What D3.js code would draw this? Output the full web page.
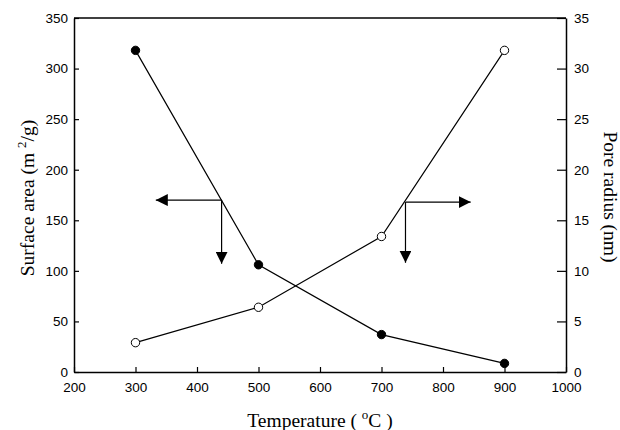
<!DOCTYPE html>
<html>
<head>
<meta charset="utf-8">
<script src="https://d3js.org/d3.v7.min.js"></script>
<title>Surface area and pore radius</title>
<style>
body { margin: 0; background: #fff; }
.tick text { font-family: "Liberation Sans", Arial, sans-serif; font-size: 13.5px; fill: #000; }
.title { font-family: "Liberation Serif", "Times New Roman", serif; font-size: 19.5px; fill: #000; }
</style>
</head>
<body>
<svg id="canvas" width="620" height="430"></svg>
<script>
// data
var temps = [300, 500, 700, 900];
var surfaceArea = [318, 106, 37, 8.5];     // m2/g, left axis, filled dots
var poreRadius = [2.9, 6.4, 13.4, 31.8];   // nm, right axis, open dots
var xTicks = [200, 300, 400, 500, 600, 700, 800, 900, 1000];
var leftTicks = [0, 50, 100, 150, 200, 250, 300, 350];
var rightTicks = [0, 5, 10, 15, 20, 25, 30, 35];
// arrow annotations, in x units and left-axis units
var leftArrow = { cx: 440, cy: 170, hx: 333, vy: 107 };
var rightArrow = { cx: 739, cy: 168, hx: 845, vy: 108 };

var svg = d3.select("#canvas");
var margin = { left: 74, right: 54, top: 18, bottom: 58 };
var w = 620 - margin.left - margin.right;
var h = 430 - margin.top - margin.bottom;

var g = svg.append("g").attr("transform", "translate(" + margin.left + "," + margin.top + ")");

var x = d3.scaleLinear().domain([200, 1000]).range([0, w]);
var yL = d3.scaleLinear().domain([0, 350]).range([h, 0]);
var yR = d3.scaleLinear().domain([0, 35]).range([h, 0]);

// frame top line
g.append("line").attr("x1", 0).attr("x2", w).attr("y1", 0).attr("y2", 0)
  .attr("stroke", "#000").attr("stroke-width", 1.5);

var xAxis = g.append("g").attr("transform", "translate(0," + h + ")")
  .call(d3.axisBottom(x).tickValues(xTicks).tickFormat(d3.format("d"))
    .tickSizeInner(-5).tickSizeOuter(0).tickPadding(10));
var lAxis = g.append("g")
  .call(d3.axisLeft(yL).tickValues(leftTicks).tickSizeInner(-5).tickSizeOuter(0).tickPadding(6));
var rAxis = g.append("g").attr("transform", "translate(" + w + ",0)")
  .call(d3.axisRight(yR).tickValues(rightTicks).tickSizeInner(-9).tickSizeOuter(0).tickPadding(8));

[xAxis, lAxis, rAxis].forEach(function(a) {
  a.select(".domain").attr("stroke", "#000").attr("stroke-width", 1.5);
  a.selectAll(".tick line").attr("stroke", "#000").attr("stroke-width", 1.2);
});

// lines
var lineL = d3.line().x(function(d, i) { return x(temps[i]); }).y(function(d) { return yL(d); });
var lineR = d3.line().x(function(d, i) { return x(temps[i]); }).y(function(d) { return yR(d); });

g.append("path").attr("d", lineL(surfaceArea)).attr("fill", "none").attr("stroke", "#000").attr("stroke-width", 1.2);
g.append("path").attr("d", lineR(poreRadius)).attr("fill", "none").attr("stroke", "#000").attr("stroke-width", 1.2);

g.selectAll(".dotL").data(surfaceArea).enter().append("circle")
  .attr("cx", function(d, i) { return x(temps[i]); })
  .attr("cy", function(d) { return yL(d); })
  .attr("r", 4.2).attr("fill", "#000").attr("stroke", "#000");
g.selectAll(".dotR").data(poreRadius).enter().append("circle")
  .attr("cx", function(d, i) { return x(temps[i]); })
  .attr("cy", function(d) { return yR(d); })
  .attr("r", 4.2).attr("fill", "#fff").attr("stroke", "#000").attr("stroke-width", 1);

// arrows
var defs = svg.append("defs");
defs.append("marker").attr("id", "head").attr("viewBox", "0 0 12 12")
  .attr("refX", 12).attr("refY", 6).attr("markerWidth", 12).attr("markerHeight", 12)
  .attr("markerUnits", "userSpaceOnUse").attr("orient", "auto")
  .append("path").attr("d", "M0,0 L12,6 L0,12 Z").attr("fill", "#000");

[leftArrow, rightArrow].forEach(function(a) {
  g.append("line").attr("x1", x(a.cx)).attr("y1", yL(a.cy)).attr("x2", x(a.hx)).attr("y2", yL(a.cy))
    .attr("stroke", "#000").attr("stroke-width", 1.2).attr("marker-end", "url(#head)");
  g.append("line").attr("x1", x(a.cx)).attr("y1", yL(a.cy)).attr("x2", x(a.cx)).attr("y2", yL(a.vy))
    .attr("stroke", "#000").attr("stroke-width", 1.2).attr("marker-end", "url(#head)");
});

// axis titles
svg.append("text").attr("class", "title").attr("text-anchor", "middle")
  .attr("transform", "translate(34,198) rotate(-90)")
  .html('Surface area (m <tspan dy="-8" font-size="13">2</tspan><tspan dy="8">/g)</tspan>');
svg.append("text").attr("class", "title").attr("text-anchor", "middle")
  .attr("transform", "translate(604,197) rotate(90)")
  .text("Pore radius (nm)");
svg.append("text").attr("class", "title").attr("text-anchor", "middle")
  .attr("x", margin.left + w / 2).attr("y", 427)
  .html('Temperature ( <tspan dy="-8" font-size="13">o</tspan><tspan dy="8">C )</tspan>');
</script>
</body>
</html>
